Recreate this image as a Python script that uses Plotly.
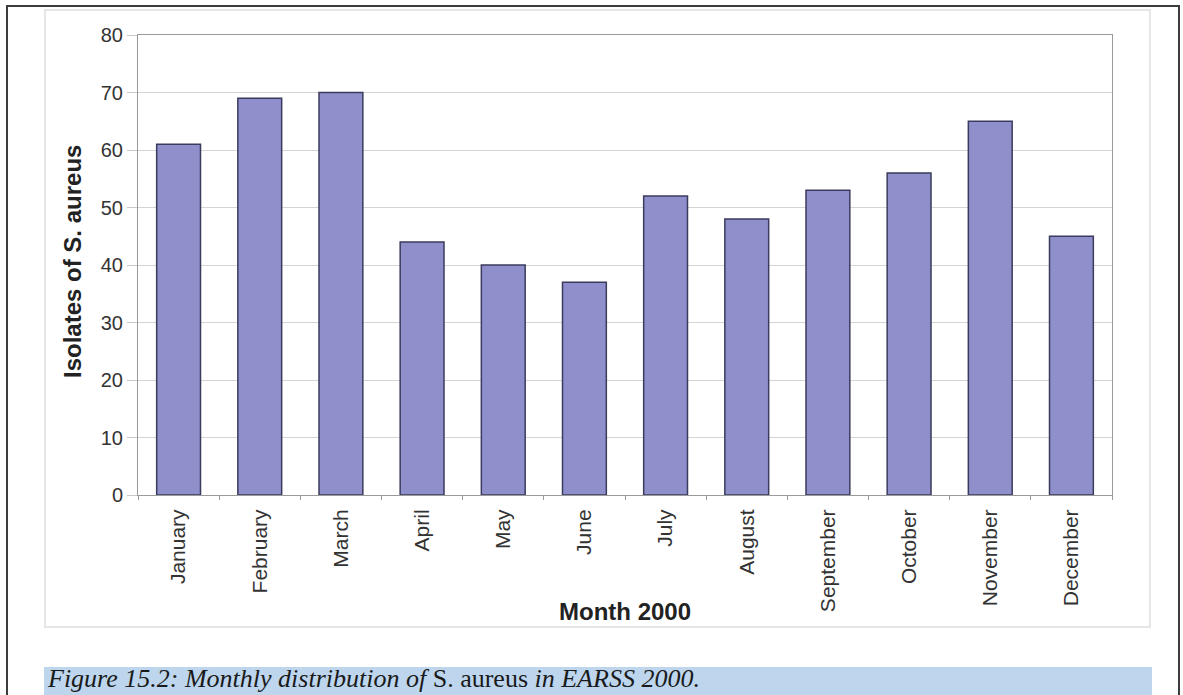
import plotly.graph_objects as go

# Monthly isolate counts
months = ["January", "February", "March", "April", "May", "June",
          "July", "August", "September", "October", "November", "December"]
isolates = [61, 69, 70, 44, 40, 37, 52, 48, 53, 56, 65, 45]
y_ticks = [0, 10, 20, 30, 40, 50, 60, 70, 80]

W, H = 1183, 695
L, R, T, B = 138, 1112, 35, 495  # plot area in pixels


def px(x):
    return (x - L) / (R - L)


def py(y):
    return (B - y) / (B - T)


fig = go.Figure(go.Bar(
    x=months, y=isolates,
    marker=dict(color="#8e8fcb", line=dict(color="#3b3b5e", width=1.5)),
    width=0.54,
))

fig.update_layout(
    width=W, height=H,
    margin=dict(l=L, r=W - R, t=T, b=H - B),
    paper_bgcolor="white", plot_bgcolor="white",
    showlegend=False,
    font=dict(family="Liberation Sans, Arial, sans-serif", color="#333333"),
    xaxis=dict(
        type="category", tickangle=-90,
        tickfont=dict(size=21, color="#333333"),
        showline=True, linecolor="#9a9a9a", linewidth=1,
        ticks="outside", ticklen=4, tickcolor="#9a9a9a", tickson="boundaries",
        ticklabelstandoff=5,
        showgrid=False, mirror=True, range=[-0.5, 11.5],
    ),
    yaxis=dict(
        range=[0, 80], tickvals=y_ticks,
        tickfont=dict(size=20, color="#333333"),
        showline=True, linecolor="#9a9a9a", linewidth=1, mirror=True,
        ticks="outside", ticklen=10, tickcolor="#c8c8c8",
        gridcolor="#d4d4d4", gridwidth=1, zeroline=False,
    ),
)

annotations = [
    dict(text="<b>Isolates of S. aureus</b>", textangle=-90,
         x=px(72), y=py(262), xref="paper", yref="paper",
         showarrow=False, font=dict(size=24, color="#222222"),
         xanchor="center", yanchor="middle"),
    dict(text="<b>Month 2000</b>",
         x=px(625), y=py(611), xref="paper", yref="paper",
         showarrow=False, font=dict(size=24, color="#222222"),
         xanchor="center", yanchor="middle"),
    dict(text="<i>Figure 15.2: Monthly distribution of</i> S. aureus <i>in EARSS 2000.</i>",
         x=px(45), y=py(678), xref="paper", yref="paper",
         showarrow=False,
         font=dict(size=26, color="#1a1a1a",
                   family="Liberation Serif, Times New Roman, serif"),
         xanchor="left", yanchor="middle"),
]
fig.update_layout(annotations=annotations)

shapes = [
    # caption band
    dict(type="rect", xref="paper", yref="paper",
         x0=px(44), x1=px(1152), y0=py(700), y1=py(667),
         fillcolor="#bdd6ee", line=dict(width=0), layer="below"),
    # chart area outline
    dict(type="rect", xref="paper", yref="paper",
         x0=px(45), x1=px(1150), y0=py(627), y1=py(10),
         line=dict(color="#e6e6e6", width=2), layer="below"),
    # outer frame
    dict(type="rect", xref="paper", yref="paper",
         x0=px(7), x1=px(1179), y0=py(720), y1=py(6),
         line=dict(color="#3c3c3c", width=2)),
]
fig.update_layout(shapes=shapes)

fig.write_html("out.html")
